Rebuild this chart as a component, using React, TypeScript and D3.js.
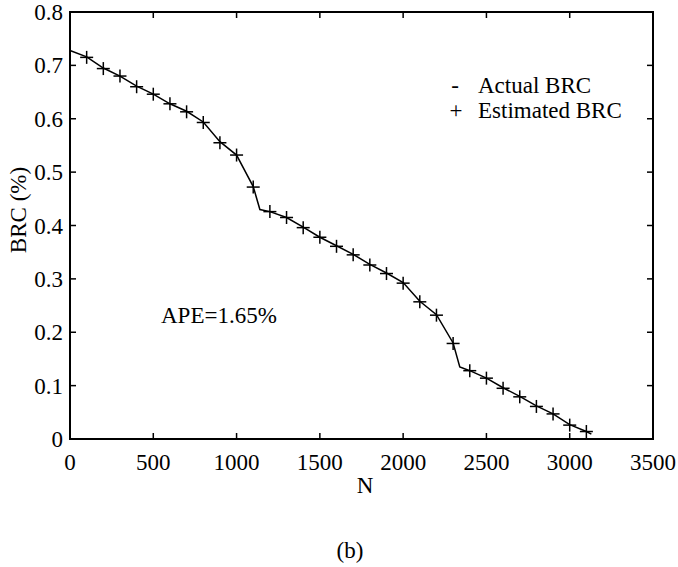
import React from "react";
import * as d3 from "d3";

const actualN = [0, 100, 200, 300, 400, 500, 600, 700, 800, 900, 1000, 1100, 1140, 1200, 1300, 1400, 1500, 1600, 1700, 1800, 1900, 2000, 2100, 2200, 2300, 2340, 2400, 2500, 2600, 2700, 2800, 2900, 3000, 3100, 3130];
const actualBRC = [0.728, 0.716, 0.695, 0.680, 0.661, 0.646, 0.628, 0.614, 0.594, 0.557, 0.532, 0.473, 0.430, 0.426, 0.415, 0.397, 0.378, 0.362, 0.346, 0.327, 0.311, 0.293, 0.258, 0.233, 0.180, 0.135, 0.128, 0.114, 0.096, 0.080, 0.062, 0.047, 0.027, 0.014, 0.009];

const estN = [100, 200, 300, 400, 500, 600, 700, 800, 900, 1000, 1100, 1200, 1300, 1400, 1500, 1600, 1700, 1800, 1900, 2000, 2100, 2200, 2300, 2400, 2500, 2600, 2700, 2800, 2900, 3000, 3100];
const estBRC = [0.715, 0.694, 0.680, 0.660, 0.646, 0.628, 0.613, 0.593, 0.555, 0.532, 0.472, 0.426, 0.415, 0.396, 0.378, 0.361, 0.345, 0.326, 0.310, 0.292, 0.257, 0.232, 0.179, 0.128, 0.114, 0.095, 0.079, 0.061, 0.047, 0.026, 0.014];

const xTicks = [0, 500, 1000, 1500, 2000, 2500, 3000, 3500];
const yTicks = [0, 0.1, 0.2, 0.3, 0.4, 0.5, 0.6, 0.7, 0.8];
const yTickLabels = ["0", "0.1", "0.2", "0.3", "0.4", "0.5", "0.6", "0.7", "0.8"];

const W = 678, H = 567;
const L = 70, R = 653, T = 12, B = 439;
const FS = { fontFamily: "Liberation Serif" };

export default function App() {
  const x = d3.scaleLinear().domain([0, 3500]).range([L, R]);
  const y = d3.scaleLinear().domain([0, 0.8]).range([B, T]);
  const line = d3.line<number>().x((d, i) => x(actualN[i])).y((d) => y(d));
  const tl = 6;
  const m = 6.5;
  return (
    <svg width={W} height={H} style={{ position: "absolute", left: 0, top: 0, background: "#fff" }}>
      <rect x={0} y={0} width={W} height={H} fill="#fff" />
      <rect x={L} y={T} width={R - L} height={B - T} fill="none" stroke="#000" strokeWidth={2} />
      {xTicks.slice(1, -1).map((t) => (
        <g key={"xt" + t}>
          <line x1={x(t)} x2={x(t)} y1={B} y2={B - tl} stroke="#000" strokeWidth={1.5} />
          <line x1={x(t)} x2={x(t)} y1={T} y2={T + tl} stroke="#000" strokeWidth={1.5} />
        </g>
      ))}
      {yTicks.slice(1, -1).map((t) => (
        <g key={"yt" + t}>
          <line x1={L} x2={L + tl} y1={y(t)} y2={y(t)} stroke="#000" strokeWidth={1.5} />
          <line x1={R} x2={R - tl} y1={y(t)} y2={y(t)} stroke="#000" strokeWidth={1.5} />
        </g>
      ))}
      {xTicks.map((t) => (
        <text key={"xl" + t} x={x(t)} y={470} textAnchor="middle" fontSize={23} style={FS}>{t}</text>
      ))}
      {yTicks.map((t, i) => (
        <text key={"yl" + t} x={63} y={y(t)} dy="0.35em" textAnchor="end" fontSize={23} style={FS}>{yTickLabels[i]}</text>
      ))}
      <text x={365} y={493} textAnchor="middle" fontSize={23} style={FS}>N</text>
      <text transform={`translate(26,210) rotate(-90)`} textAnchor="middle" fontSize={23} style={FS}>BRC (%)</text>
      <text x={350} y={558} textAnchor="middle" fontSize={23} style={FS}>(b)</text>
      <path d={line(actualBRC) || ""} fill="none" stroke="#000" strokeWidth={1.5} />
      {estN.map((n, i) => (
        <g key={"m" + n}>
          <line x1={x(n) - m} x2={x(n) + m} y1={y(estBRC[i])} y2={y(estBRC[i])} stroke="#000" strokeWidth={1.5} />
          <line x1={x(n)} x2={x(n)} y1={y(estBRC[i]) - m} y2={y(estBRC[i]) + m} stroke="#000" strokeWidth={1.5} />
        </g>
      ))}
      <text x={161} y={323} fontSize={23} style={FS}>APE=1.65%</text>
      <text x={455} y={93} textAnchor="middle" fontSize={23} style={FS}>-</text>
      <text x={478} y={93} fontSize={23} style={FS}>Actual BRC</text>
      <text x={456} y={118} textAnchor="middle" fontSize={23} style={FS}>+</text>
      <text x={478} y={118} fontSize={23} style={FS}>Estimated BRC</text>
    </svg>
  );
}
